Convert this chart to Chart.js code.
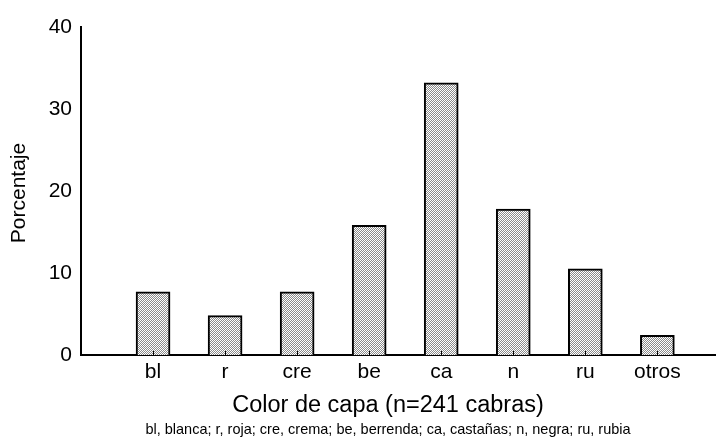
<!DOCTYPE html>
<html>
<head>
<meta charset="utf-8">
<script src="https://cdn.jsdelivr.net/npm/chart.js@4"></script>
<style>
  html, body { margin: 0; padding: 0; background: #fff; }
  #wrap { width: 720px; height: 439px; position: relative; }
</style>
</head>
<body>
<div id="wrap"><canvas id="chart"></canvas></div>
<script>
const categories = ['bl', 'r', 'cre', 'be', 'ca', 'n', 'ru', 'otros'];
const porcentajes = [7.7, 4.8, 7.7, 15.8, 33.2, 17.8, 10.5, 2.4];
const yTicks = [0, 10, 20, 30, 40];
const xTitle = 'Color de capa (n=241 cabras)';
const yTitle = 'Porcentaje';
const nota = 'bl, blanca; r, roja; cre, crema; be, berrenda; ca, castañas; n, negra; ru, rubia';

// fine diagonal hatch fill
function hatch() {
    const c = document.createElement('canvas');
    c.width = 4; c.height = 4;
    const g = c.getContext('2d');
    g.fillStyle = '#ffffff';
    g.fillRect(0, 0, 4, 4);
    g.fillStyle = '#8a8a8a';
    for (let i = 0; i < 4; i++) {
        g.fillRect(i, 3 - i, 1, 1);
        g.fillRect((i + 2) % 4, 3 - i, 1, 1);
    }
    return g.createPattern(c, 'repeat');
}

const FONT = 'Arial, "Liberation Sans", sans-serif';

const extraText = {
    id: 'extraText',
    afterDraw(chart) {
        const ctx = chart.ctx;
        const x = chart.scales.x;
        ctx.save();
        ctx.strokeStyle = '#000';
        ctx.lineWidth = 1;
        // small inward ticks on x axis
        categories.forEach((c, i) => {
            const px = Math.round(x.getPixelForValue(i)) + 0.5;
            ctx.beginPath();
            ctx.moveTo(px, chart.chartArea.bottom);
            ctx.lineTo(px, chart.chartArea.bottom - 4);
            ctx.stroke();
        });
        ctx.fillStyle = '#000';
        ctx.textAlign = 'center';
        ctx.textBaseline = 'middle';
        ctx.font = '23.5px ' + FONT;
        ctx.fillText(xTitle, 388, 406);
        ctx.font = '14.5px ' + FONT;
        ctx.fillText(nota, 388, 430);
        ctx.translate(19, 193);
        ctx.rotate(-Math.PI / 2);
        ctx.font = '21px ' + FONT;
        ctx.fillText(yTitle, 0, 0);
        ctx.restore();
    }
};

new Chart(document.getElementById('chart'), {
    type: 'bar',
    data: {
        datasets: [{
            data: porcentajes.map((v, i) => ({ x: i, y: v })),
            backgroundColor: hatch(),
            borderColor: '#000',
            borderWidth: 2,
            barThickness: 34
        }]
    },
    options: {
        responsive: true,
        maintainAspectRatio: false,
        animation: false,
        devicePixelRatio: 1,
        layout: { padding: { top: 27, right: 5, left: 0, bottom: 0 } },
        plugins: { legend: { display: false }, tooltip: { enabled: false } },
        scales: {
            x: {
                type: 'linear',
                offset: false,
                min: -1,
                max: 7.8,
                afterBuildTicks: (s) => { s.ticks = categories.map((c, i) => ({ value: i })); },
                afterFit: (s) => { s.height = 84; },
                ticks: {
                    autoSkip: false,
                    maxRotation: 0,
                    color: '#000',
                    font: { size: 21, family: FONT },
                    padding: 5,
                    callback: (v) => categories[v] ?? ''
                },
                grid: { display: false, drawTicks: false },
                border: { color: '#000', width: 2 }
            },
            y: {
                min: 0,
                max: 40,
                afterBuildTicks: (s) => { s.ticks = yTicks.map(v => ({ value: v })); },
                afterFit: (s) => { s.width = 81; },
                ticks: {
                    color: '#000',
                    font: { size: 21, family: FONT },
                    padding: 5
                },
                grid: { display: false, drawOnChartArea: false, drawTicks: true, tickLength: 4, color: '#000' },
                border: { color: '#000', width: 2 }
            }
        }
    },
    plugins: [extraText]
});
</script>
</body>
</html>
